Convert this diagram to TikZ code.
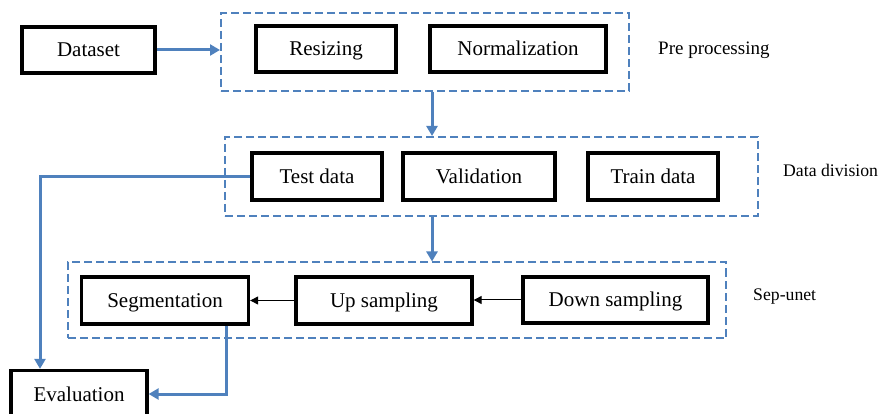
\documentclass[tikz,border=0pt]{standalone}
\usepackage{fontspec}
\setmainfont{Liberation Serif}
\usetikzlibrary{arrows.meta, positioning}
\definecolor{flowblue}{HTML}{4F81BD}

\tikzset{
  stepbox/.style={draw=black, line width=3.3pt, inner sep=0, minimum height=47pt,
    text height=19pt, text depth=5pt, font=\fontsize{21}{25}\selectfont},
  stagebox/.style={draw=flowblue, line width=2pt, dash pattern=on 8pt off 4pt, inner sep=0},
  stagelabel/.style={anchor=west, inner sep=0},
  bluearrow/.style={-{Triangle[length=10pt, width=11pt]}, flowblue, line width=3pt},
  blackarrow/.style={-{Triangle[length=8pt, width=8pt]}, black, line width=1pt}
}

\begin{document}
\begin{tikzpicture}[x=1pt, y=-1pt]
\useasboundingbox (0,0) rectangle (879,414);

% ---- stage frames
\node[stagebox, minimum width=408pt, minimum height=78pt] (pre) at (425,52) {};
\node[stagebox, minimum width=533pt, minimum height=79pt] (div) at (491.5,176.5) {};
\node[stagebox, minimum width=658pt, minimum height=76pt] (sep) at (397,300.5) {};

% ---- stage labels
\node[stagelabel, font=\fontsize{19}{23}\selectfont] (prelabel) at (658,50) {Pre processing};
\node[stagelabel, font=\fontsize{17.7}{21}\selectfont] (divlabel) at (783,170) {Data division};
\node[stagelabel, font=\fontsize{17.7}{21}\selectfont] (seplabel) at (753,297) {Sep-unet};

% ---- step boxes
\node[stepbox, minimum width=133pt, minimum height=46pt] (dataset) at (88.5,50) {Dataset};
\node[stepbox, minimum width=140pt, minimum height=46pt] (resize) at (326,49) {Resizing};
\node[stepbox, minimum width=176pt, minimum height=46pt] (norm) at (518,49) {Normalization};
\node[stepbox, minimum width=130pt] (test) at (317,176.5) {Test data};
\node[stepbox, minimum width=152pt] (valid) at (479,176.5) {Validation};
\node[stepbox, minimum width=130pt] (train) at (653,176.5) {Train data};
\node[stepbox, minimum width=167pt] (seg) at (165,300.5) {Segmentation};
\node[stepbox, minimum width=176pt] (up) at (384,300.5) {Up sampling};
\node[stepbox, minimum width=185pt, minimum height=46pt] (down) at (615.5,300) {Down sampling};
\node[stepbox, minimum width=136pt] (eval) at (79,394) {Evaluation};

% ---- connectors
\coordinate (spine) at (432,0);
\draw[bluearrow] (dataset.east) -- (dataset.east -| pre.west);
\draw[bluearrow] (spine |- pre.south) -- (spine |- div.north);
\draw[bluearrow] (spine |- div.south) -- (spine |- sep.north);
\draw[blackarrow] (down.west) -- (down.west -| up.east);
\draw[blackarrow] (up.west) -- (up.west -| seg.east);
\draw[bluearrow] (test.west) -| ([xshift=-39pt]eval.north);
\draw[bluearrow] ([xshift=61pt]seg.south) |- (eval.east);

\end{tikzpicture}
\end{document}
